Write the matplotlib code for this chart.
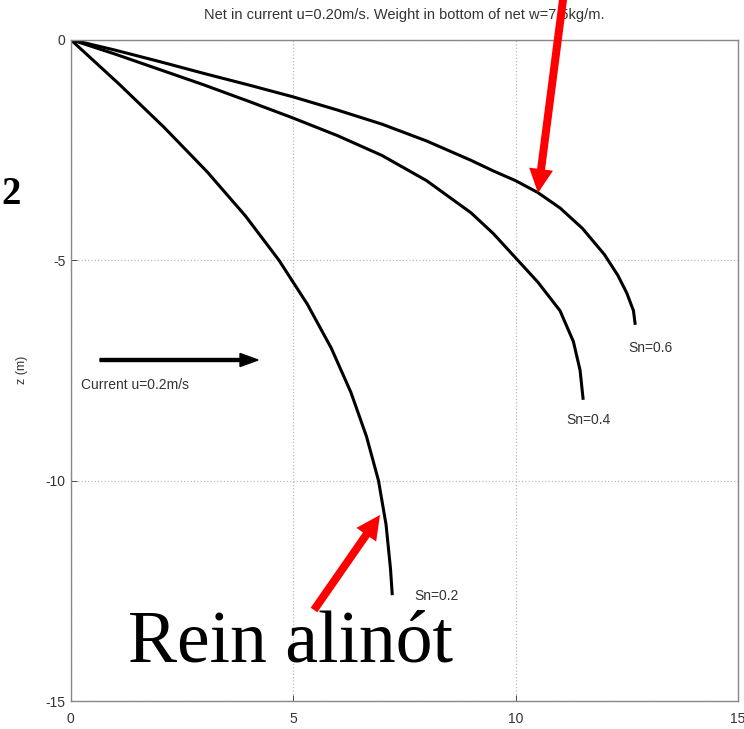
import matplotlib.pyplot as plt
from matplotlib.patches import FancyArrow
from matplotlib.transforms import IdentityTransform

# net shape (x, z) for three solidity values
x_sn06 = [0, 1, 2, 3, 4, 5, 6, 7, 8, 9, 9.5, 10, 10.5, 11, 11.5, 12, 12.3, 12.5, 12.65, 12.69]
z_sn06 = [0, -0.24, -0.5, -0.77, -1.03, -1.3, -1.6, -1.92, -2.3, -2.74, -2.98, -3.2,
          -3.47, -3.82, -4.28, -4.88, -5.35, -5.75, -6.15, -6.47]

x_sn04 = [0, 1, 2, 3, 4, 5, 6, 7, 8, 9, 9.5, 10, 10.5, 11, 11.3, 11.45, 11.52]
z_sn04 = [0, -0.33, -0.68, -1.03, -1.4, -1.78, -2.18, -2.63, -3.2, -3.93, -4.4, -4.95,
          -5.5, -6.15, -6.85, -7.5, -8.17]

x_sn02 = [0, 1.08, 2.11, 3.07, 3.93, 4.68, 5.32, 5.86, 6.30, 6.65, 6.92, 7.09, 7.19, 7.23]
z_sn02 = [0, -1, -2, -3, -4, -5, -6, -7, -8, -9, -10, -11, -12, -12.6]

labels = ["Sn=0.6", "Sn=0.4", "Sn=0.2"]
label_pos = [(13.04, -6.99), (11.63, -8.63), (8.22, -12.62)]

plt.rcParams['font.family'] = ['Liberation Sans', 'DejaVu Sans']
plt.rcParams['axes.unicode_minus'] = False

W, H = 744, 729
fig = plt.figure(figsize=(W / 100, H / 100), dpi=100)
ax = fig.add_axes([0.0948, 0.0384, 0.8972, 0.9074])

for xs, zs in [(x_sn06, z_sn06), (x_sn04, z_sn04), (x_sn02, z_sn02)]:
    ax.plot(xs, zs, color='black', linewidth=2.2, solid_joinstyle='round',
            solid_capstyle='butt')

for lab, (lx, ly) in zip(labels, label_pos):
    ax.text(lx, ly, lab, fontsize=10, color='#333333', ha='center', va='center')

ax.set_xlim(0, 15)
ax.set_ylim(-15, 0)
ax.set_xticks([0, 5, 10, 15])
ax.set_yticks([0, -5, -10, -15])
ax.tick_params(direction='in', length=4, labelsize=10, colors='#333333', width=0.6)
ax.tick_params(axis='x', pad=8)
ax.grid(True, linestyle=':', color='#bbbbbb', linewidth=0.9)
for s in ax.spines.values():
    s.set_color('#888888')
    s.set_linewidth(1.0)
ax.set_ylabel("z (m)", fontsize=9, color='#333333')
ax.yaxis.set_label_coords(-0.064, 0.5)
ax.set_title("Net in current u=0.20m/s. Weight in bottom of net w=7.5kg/m.",
             fontsize=10.5, color='#333333', pad=15)

# current arrow and text (figure pixels, origin bottom-left)
fig.add_artist(FancyArrow(100, H - 360, 158, 0, width=3, head_width=13, head_length=18,
                          length_includes_head=True, color='black',
                          transform=IdentityTransform()))
fig.text(81 / W, 1 - 385 / H, "Current u=0.2m/s", fontsize=10, color='#333333',
         ha='left', va='center')

# red annotation arrows
for (x0, y0), (x1, y1) in [((564, -8), (538, 193)), ((314, 610), (380, 515))]:
    fig.add_artist(FancyArrow(x0, H - y0, x1 - x0, y0 - y1, width=8, head_width=24,
                              head_length=24, length_includes_head=True,
                              color='#ff0000', linewidth=0,
                              transform=IdentityTransform(), zorder=10))

fig.text(290 / W, 1 - 662 / H, "Rein alinót", fontsize=53, ha='center', va='baseline',
         family=['Liberation Serif', 'DejaVu Serif'], color='black')
fig.text(1 / W, 1 - 195 / H, "2", fontsize=28, fontweight='bold', ha='left',
         va='center', family=['Liberation Serif', 'DejaVu Serif'], color='black')

fig.savefig("out.png", dpi=100)
